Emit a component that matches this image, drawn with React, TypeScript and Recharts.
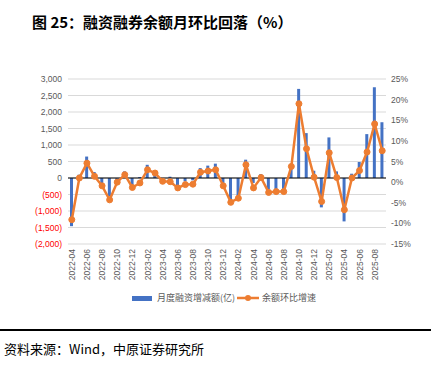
import {
  ComposedChart,
  Bar,
  Line,
  XAxis,
  YAxis,
  CartesianGrid,
  ReferenceLine,
} from 'recharts'

const months = [
  '2022-04', '2022-05', '2022-06', '2022-07', '2022-08', '2022-09', '2022-10', '2022-11', '2022-12',
  '2023-01', '2023-02', '2023-03', '2023-04', '2023-05', '2023-06', '2023-07', '2023-08', '2023-09',
  '2023-10', '2023-11', '2023-12', '2024-01', '2024-02', '2024-03', '2024-04', '2024-05', '2024-06',
  '2024-07', '2024-08', '2024-09', '2024-10', '2024-11', '2024-12', '2025-01', '2025-02', '2025-03',
  '2025-04', '2025-05', '2025-06', '2025-07', '2025-08', '2025-09',
]

// 月度融资增减额(亿)
const flowChange = [
  -1460, 100, 650, 180, -200, -560, -60, 200, -250,
  30, 400, 220, -20, 40, -235, -100, -70, 300,
  375, 435, -150, -680, -555, 555, -150, 120, -350,
  -350, -330, 300, 2700, 1360, 220, -890, 1230, 200,
  -1315, 130, 485, 1330, 2750, 1690,
]

// 余额环比增速(%)
const balanceGrowth = [
  -9.1, 1.0, 4.6, 1.4, -0.9, -4.3, 0.0, 1.8, -1.3,
  -0.2, 3.0, 2.2, 0.2, 0.1, -1.4, -0.6, -0.5, 2.4,
  2.7, 3.0, -0.9, -4.9, -3.9, 4.2, -1.4, 1.1, -2.5,
  -2.3, -2.3, 3.8, 19.0, 8.1, 1.2, -4.7, 7.1, 1.1,
  -6.7, 1.0, 2.8, 7.3, 14.1, 7.6,
]

const leftTicks = [-2000, -1500, -1000, -500, 0, 500, 1000, 1500, 2000, 2500, 3000]
const rightTicks = [-15, -10, -5, 0, 5, 10, 15, 20, 25]

const data = months.map((m, i) => ({
  month: m,
  flow: flowChange[i],
  growth: balanceGrowth[i],
}))

const BLUE = '#4472C4'
const ORANGE = '#ED7D31'
const AXIS_TEXT = '#595959'

function fmtAmount(v: number) {
  const s = Math.abs(v).toLocaleString('en-US')
  return v < 0 ? `(${s})` : s
}

function LeftTick({ x, y, payload }: any) {
  const v = payload.value as number
  return (
    <text x={x} y={y} dy={3} textAnchor="end" fontSize={8.5} fill={v < 0 ? '#FF0000' : AXIS_TEXT}>
      {fmtAmount(v)}
    </text>
  )
}

function RightTick({ x, y, payload }: any) {
  return (
    <text x={x} y={y} dy={3} textAnchor="start" fontSize={8.5} fill={AXIS_TEXT}>
      {`${payload.value}%`}
    </text>
  )
}

function MonthTick({ x, y, payload }: any) {
  return (
    <text
      x={x}
      y={y}
      dy={3}
      textAnchor="end"
      fontSize={8.5}
      fill={AXIS_TEXT}
      transform={`rotate(-90, ${x}, ${y})`}
    >
      {payload.value}
    </text>
  )
}

export default function App() {
  return (
    <div
      style={{
        position: 'absolute',
        left: 0,
        top: 0,
        width: 431,
        height: 371,
        background: '#fff',
        fontFamily: '"Liberation Sans", Arial, sans-serif',
      }}
    >
      <div
        style={{
          position: 'absolute',
          left: 32,
          top: 12,
          fontSize: 15,
          fontWeight: 'bold',
          fontFamily: '"Noto Sans CJK SC", sans-serif',
          color: '#000',
          whiteSpace: 'nowrap',
          lineHeight: '20px',
        }}
      >
        图 25：融资融券余额月环比回落（%）
      </div>

      <div style={{ position: 'absolute', left: 0, top: 0 }}>
        <ComposedChart
          width={431}
          height={290}
          data={data}
          margin={{ top: 79, right: 0, bottom: 0, left: 0 }}
        >
          <CartesianGrid yAxisId="left" vertical={false} stroke="#D9D9D9" />
          <XAxis
            dataKey="month"
            interval={1}
            height={46}
            axisLine={false}
            tickLine={false}
            tickSize={0}
            tickMargin={5}
            tick={<MonthTick />}
          />
          <YAxis
            yAxisId="left"
            domain={[-2000, 3000]}
            ticks={leftTicks}
            interval={0}
            width={68}
            axisLine={false}
            tickLine={false}
            tickSize={0}
            tickMargin={6}
            tick={<LeftTick />}
          />
          <YAxis
            yAxisId="right"
            orientation="right"
            domain={[-15, 25]}
            ticks={rightTicks}
            interval={0}
            width={45}
            axisLine={false}
            tickLine={false}
            tickSize={0}
            tickMargin={5}
            tick={<RightTick />}
          />
          <ReferenceLine yAxisId="left" y={0} stroke="#000" strokeWidth={1.2} />
          <Bar yAxisId="left" dataKey="flow" fill={BLUE} barSize={3} isAnimationActive={false} />
          <Line
            yAxisId="right"
            dataKey="growth"
            type="linear"
            stroke={ORANGE}
            strokeWidth={2.5}
            dot={{ r: 3, fill: ORANGE, stroke: ORANGE, strokeWidth: 1 }}
            isAnimationActive={false}
          />
        </ComposedChart>
      </div>

      <div
        style={{
          position: 'absolute',
          left: 132,
          top: 291,
          display: 'flex',
          alignItems: 'center',
          fontSize: 9,
          color: AXIS_TEXT,
          fontFamily: '"Noto Sans CJK SC", sans-serif',
          whiteSpace: 'nowrap',
          lineHeight: '14px',
        }}
      >
        <span style={{ display: 'inline-block', width: 20, height: 5, background: BLUE, marginRight: 5 }} />
        <span>月度融资增减额(亿)</span>
        <svg width={22} height={10} style={{ marginLeft: 2, marginRight: 3 }}>
          <line x1={0} y1={5} x2={22} y2={5} stroke={ORANGE} strokeWidth={2.5} />
          <circle cx={11} cy={5} r={3} fill={ORANGE} />
        </svg>
        <span>余额环比增速</span>
      </div>

      <div
        style={{
          position: 'absolute',
          left: 0,
          top: 329,
          width: 431,
          height: 2,
          background: '#000',
        }}
      />
      <div
        style={{
          position: 'absolute',
          left: 4,
          top: 340,
          fontSize: 13,
          fontFamily: '"Noto Sans CJK SC", sans-serif',
          color: '#000',
          whiteSpace: 'nowrap',
          lineHeight: '18px',
        }}
      >
        资料来源：Wind，中原证券研究所
      </div>
    </div>
  )
}
